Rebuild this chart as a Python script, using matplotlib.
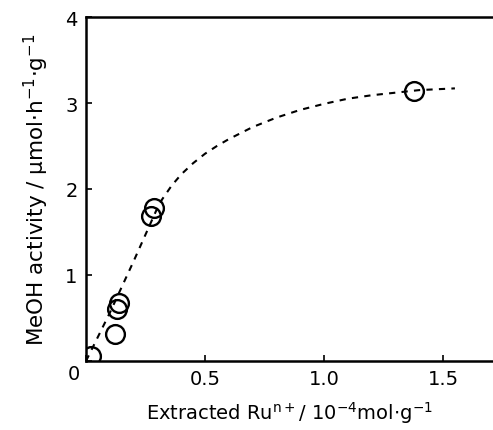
import matplotlib
matplotlib.use("Agg")
import matplotlib.pyplot as plt

# measured points
ru_extracted = [0.02, 0.12, 0.13, 0.14, 0.275, 0.284, 1.38]
meoh_activity = [0.06, 0.31, 0.60, 0.67, 1.69, 1.78, 3.14]

# hand-drawn trend curve
curve_x = [0.0, 0.05, 0.1, 0.15, 0.2, 0.25, 0.3, 0.32, 0.36, 0.4, 0.45, 0.5, 0.55,
           0.6, 0.65, 0.7, 0.8, 0.9, 1.0, 1.1, 1.2, 1.3, 1.4, 1.55]
curve_y = [0.0, 0.28, 0.56, 0.86, 1.16, 1.47, 1.78, 1.88, 2.04, 2.17, 2.30, 2.41, 2.50,
           2.58, 2.65, 2.72, 2.83, 2.92, 2.99, 3.05, 3.09, 3.12, 3.15, 3.17]

plt.rcParams["font.family"] = ["DejaVu Sans"]
plt.rcParams["mathtext.default"] = "regular"

fig = plt.figure(figsize=(4.93, 4.31), dpi=100)
ax = fig.add_axes([86 / 493, 69 / 431, 407 / 493, 344 / 431])

ax.plot(curve_x, curve_y, color="black", lw=1.5, ls=(0, (3, 3)), zorder=2)
ax.plot(ru_extracted, meoh_activity, ls="none", marker="o", ms=13.5,
        mfc="none", mec="black", mew=1.7, zorder=3)

ax.set_xlim(0, 1.71)
ax.set_ylim(0, 4)
ax.set_xticks([0, 0.5, 1.0, 1.5])
ax.set_xticklabels(["", "0.5", "1.0", "1.5"])
ax.set_yticks([0, 1, 2, 3, 4])
ax.set_yticklabels(["", "1", "2", "3", "4"])
ax.text(-0.015, -0.01, "0", transform=ax.transAxes, ha="right", va="top", fontsize=14)

ax.tick_params(direction="in", length=4, width=1.2, labelsize=14, pad=6)
ax.spines["right"].set_visible(False)
for s in ["left", "bottom", "top"]:
    ax.spines[s].set_linewidth(1.8)

ax.set_xlabel("Extracted Ru$^{n+}$/ 10$^{-4}$mol$\\cdot$g$^{-1}$", fontsize=14, labelpad=8)
ax.set_ylabel("MeOH activity / \u03bcmol$\\cdot$h$^{-1}$$\\cdot$g$^{-1}$", fontsize=15.5, labelpad=10)

fig.savefig("out.png", dpi=100)
